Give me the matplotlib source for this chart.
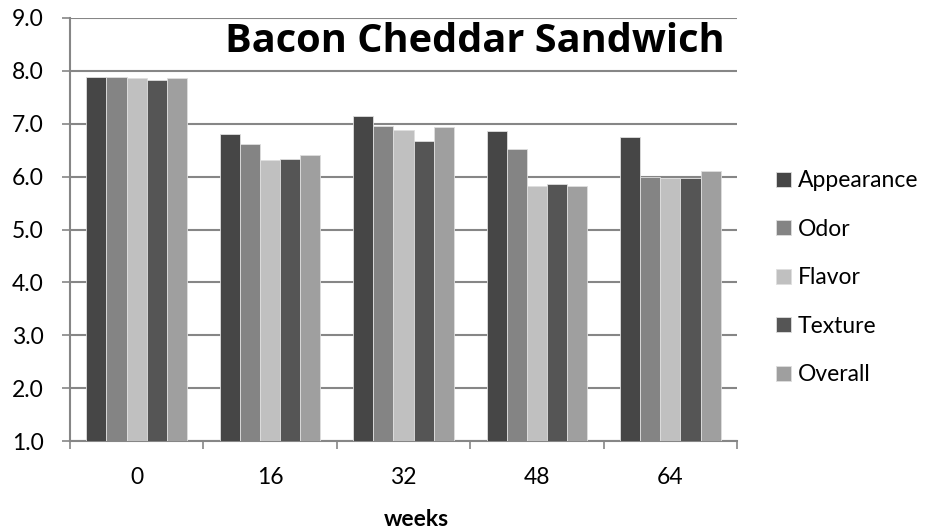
import matplotlib
matplotlib.use('Agg')
import matplotlib.pyplot as plt
import numpy as np

weeks = ['0', '16', '32', '48', '64']
series = ['Appearance', 'Odor', 'Flavor', 'Texture', 'Overall']
appearance = [7.89, 6.80, 7.14, 6.86, 6.75]
odor = [7.88, 6.62, 6.96, 6.52, 6.00]
flavor = [7.86, 6.31, 6.88, 5.82, 5.98]
texture = [7.83, 6.34, 6.67, 5.86, 5.98]
overall = [7.87, 6.40, 6.94, 5.82, 6.11]
colors = ['#464646', '#848484', '#c0c0c0', '#555555', '#9f9f9f']

plt.rcParams['font.family'] = ['Lato', 'DejaVu Sans']

W, H = 931, 532
fig = plt.figure(figsize=(W / 100, H / 100), dpi=100)
# plot area in pixels: x 70..737, y 18..441
ax = fig.add_axes([70 / W, 1 - 441 / H, 667 / W, 423 / H])

x = np.arange(len(weeks))
bw = 0.151
data = [appearance, odor, flavor, texture, overall]
for i, vals in enumerate(data):
    ax.bar(x + (i - 2) * bw, np.array(vals) - 1.0, bw, bottom=1.0,
           color=colors[i], edgecolor='#dedede', linewidth=0.6,
           label=series[i], zorder=3)

grid = '#868686'
ax.set_ylim(1.0, 9.0)
ax.set_xlim(-0.5, len(weeks) - 0.5)
ax.set_yticks(np.arange(1, 10))
ax.set_yticklabels(['%.1f' % v for v in np.arange(1, 10)], fontsize=16.5)
ax.yaxis.grid(True, color=grid, linewidth=1.5, zorder=0)
ax.set_xticks(x)
ax.set_xticklabels(weeks, fontsize=16.5)
ax.tick_params(axis='x', length=0, pad=19)
ax.set_xticks(np.arange(-0.5, len(weeks)), minor=True)
ax.tick_params(axis='x', which='minor', length=6, color=grid, width=1.2, direction='out')
ax.tick_params(axis='y', length=6, color=grid, width=1.2, direction='out', pad=13)
for s in ['top', 'right']:
    ax.spines[s].set_visible(False)
for s in ['left', 'bottom']:
    ax.spines[s].set_color(grid)
    ax.spines[s].set_linewidth(1.5)

fig.text(416 / W, 1 - 519 / H, 'weeks', fontsize=16.5, fontweight='bold',
         ha='center', va='center')

title = ax.text((725 - 70) / 667, (441 - 51.7) / 423, 'Bacon Cheddar Sandwich',
                transform=ax.transAxes, ha='right', va='baseline',
                fontsize=25, fontweight='bold', family=['Open Sans', 'DejaVu Sans'])
# scale title so it spans about 500 px like the reference
r = fig.canvas.get_renderer()
tw = title.get_window_extent(r).width
title.set_fontsize(25 * 500 / tw)

leg = ax.legend(loc='center left', bbox_to_anchor=(776 / W, 1 - 277.75 / H),
                bbox_transform=fig.transFigure, frameon=False, borderpad=0,
                borderaxespad=0, fontsize=16.5, handlelength=0.64,
                handleheight=0.64, handletextpad=0.3, labelspacing=1.2)

fig.savefig('out.png', dpi=100)
